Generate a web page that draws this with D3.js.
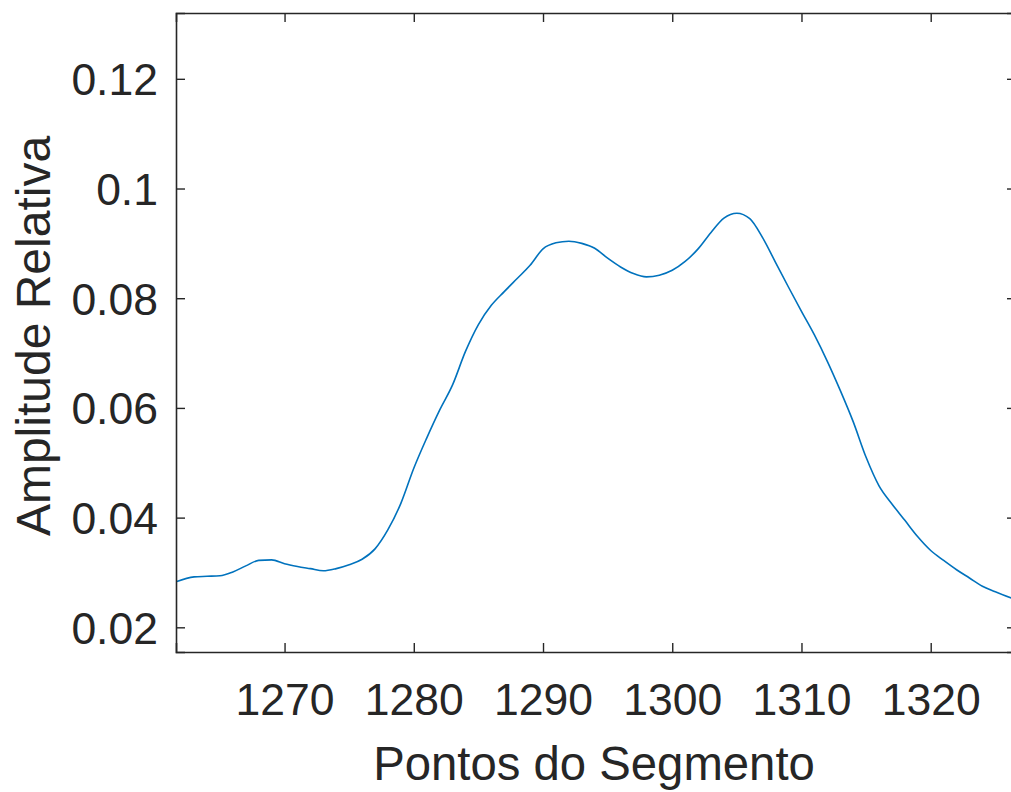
<!DOCTYPE html>
<html>
<head>
<meta charset="utf-8">
<script src="https://cdn.jsdelivr.net/npm/d3@7"></script>
<style>
  html, body { margin: 0; padding: 0; background: #fff; }
  svg { display: block; font-family: "Liberation Sans", Arial, Helvetica, sans-serif; }
</style>
</head>
<body>
<svg id="chart" width="1011" height="792"></svg>
<script>
// Segment sample positions and their relative amplitude
const pontos = [
  1261.6, 1263, 1264, 1265, 1266, 1267, 1268, 1269, 1270, 1271,
  1272, 1273, 1274, 1275, 1276, 1277, 1278, 1279, 1280, 1281,
  1282, 1283, 1284, 1285, 1286, 1287, 1288, 1289, 1290, 1291,
  1292, 1293, 1294, 1295, 1296, 1297, 1298, 1299, 1300, 1301,
  1302, 1303, 1304, 1305, 1306, 1307, 1308, 1309, 1310, 1311,
  1312, 1313, 1314, 1315, 1316, 1317, 1318, 1319, 1320, 1321,
  1322, 1323, 1324, 1325, 1326.6
];
const amplitude = [
  0.0283, 0.0292, 0.0293, 0.0294, 0.0301, 0.0312, 0.0322, 0.0323, 0.0316, 0.0311,
  0.0307, 0.0303, 0.0307, 0.0314, 0.0324, 0.0343, 0.0378, 0.0426, 0.0490, 0.0545,
  0.0596, 0.0642, 0.0703, 0.0752, 0.0787, 0.0812, 0.0836, 0.0860, 0.0890, 0.0901,
  0.0904, 0.0900, 0.0891, 0.0873, 0.0857, 0.0845, 0.0839, 0.0842, 0.0851, 0.0867,
  0.0890, 0.0920, 0.0946, 0.0955, 0.0945, 0.0910, 0.0865, 0.0820, 0.0776, 0.0733,
  0.0685, 0.0632, 0.0575, 0.0510, 0.0458, 0.0425, 0.0395, 0.0365, 0.0340, 0.0322,
  0.0305, 0.0290, 0.0275, 0.0265, 0.0250
];

const xTickValues = [1270, 1280, 1290, 1300, 1310, 1320];
const yTickValues = [0.02, 0.04, 0.06, 0.08, 0.10, 0.12];
const yTickLabels = ["0.02", "0.04", "0.06", "0.08", "0.1", "0.12"];
const xDomain = [1261.6, 1326.6];
const yDomain = [0.0155, 0.132];

const xLabel = "Pontos do Segmento";
const yLabel = "Amplitude Relativa";

// Plot box
const box = { left: 176, right: 1016, top: 13, bottom: 652 };
const axisColor = "#262626";
const tickLen = 9;

const svg = d3.select("#chart");

const x = d3.scaleLinear().domain(xDomain).range([box.left, box.right]);
const y = d3.scaleLinear().domain(yDomain).range([box.bottom, box.top]);

svg.append("defs").append("clipPath").attr("id", "plotClip")
  .append("rect").attr("x", box.left).attr("y", box.top)
  .attr("width", box.right - box.left).attr("height", box.bottom - box.top);

// Data line
const series = pontos.map((p, i) => ({ p, a: amplitude[i] }));
svg.append("path")
  .datum(series)
  .attr("clip-path", "url(#plotClip)")
  .attr("fill", "none")
  .attr("stroke", "#0072BD")
  .attr("stroke-width", 1.6)
  .attr("stroke-linejoin", "round")
  .attr("d", d3.line().x(d => x(d.p)).y(d => y(d.a)).curve(d3.curveMonotoneX));

function styleAxis(g) {
  g.select(".domain").attr("stroke", axisColor).attr("stroke-width", 1.6);
  g.selectAll(".tick line").attr("stroke", axisColor).attr("stroke-width", 1.4);
  g.selectAll(".tick text")
    .attr("fill", axisColor)
    .attr("font-size", 44.5)
    .attr("font-family", "\"Liberation Sans\", Arial, Helvetica, sans-serif");
}

// Bottom axis with labels
svg.append("g")
  .attr("transform", `translate(0,${box.bottom})`)
  .call(d3.axisBottom(x).tickValues(xTickValues).tickSize(-tickLen).tickPadding(31).tickFormat(d3.format("d")))
  .call(styleAxis);

// Top axis (ticks only)
svg.append("g")
  .attr("transform", `translate(0,${box.top})`)
  .call(d3.axisTop(x).tickValues(xTickValues).tickSize(-tickLen).tickFormat(""))
  .call(styleAxis);

// Left axis with labels
svg.append("g")
  .attr("transform", `translate(${box.left},0)`)
  .call(d3.axisLeft(y).tickValues(yTickValues).tickSize(-tickLen).tickPadding(18)
    .tickFormat((d, i) => yTickLabels[i]))
  .call(styleAxis)
  .call(g => g.selectAll(".tick text").attr("dy", "0.36em"));

// Right axis (ticks only)
svg.append("g")
  .attr("transform", `translate(${box.right},0)`)
  .call(d3.axisRight(y).tickValues(yTickValues).tickSize(-tickLen).tickFormat(""))
  .call(styleAxis);

// Axis titles
svg.append("text")
  .attr("x", 594).attr("y", 780)
  .attr("text-anchor", "middle")
  .attr("font-size", 47.3)
  .attr("fill", axisColor)
  .text(xLabel);

svg.append("text")
  .attr("transform", "translate(50,336) rotate(-90)")
  .attr("text-anchor", "middle")
  .attr("font-size", 48)
  .attr("fill", axisColor)
  .text(yLabel);
</script>
</body>
</html>
